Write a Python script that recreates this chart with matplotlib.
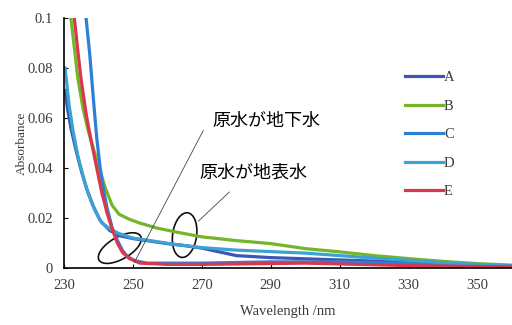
import matplotlib
matplotlib.use('Agg')
import matplotlib.pyplot as plt
from matplotlib.patches import Ellipse
from matplotlib.transforms import ScaledTranslation

# Absorbance spectra
wl_a = [230.3, 231, 232, 233.5, 235, 236.5, 238.4, 240.5, 243.3, 246, 250, 255, 260, 265, 270,
        275, 280, 290, 305, 320, 340, 360]
abs_a = [0.071, 0.064, 0.056, 0.047, 0.039, 0.032, 0.025, 0.019, 0.015, 0.013, 0.0118, 0.0108,
         0.0098, 0.009, 0.008, 0.0065, 0.005, 0.0042, 0.0035, 0.0028, 0.0015, 0.001]

wl_b = [232, 233, 234, 235.5, 237, 238.5, 240, 242, 244, 246, 249, 252, 257, 263, 270, 280, 290,
        300, 310, 320, 330, 340, 350, 360]
abs_b = [0.1, 0.088, 0.076, 0.064, 0.055, 0.048, 0.041, 0.032, 0.025, 0.0215, 0.0195, 0.018,
         0.016, 0.0143, 0.0125, 0.011, 0.0098, 0.0078, 0.0065, 0.005, 0.0038, 0.0027, 0.0018, 0.0012]

wl_c = [236.4, 237.5, 238.5, 239.5, 240.5, 241.5, 242.5, 244, 245.5, 247, 248.5, 250.5, 254, 270,
        290, 310, 330, 360]
abs_c = [0.1, 0.085, 0.068, 0.052, 0.040, 0.031, 0.024, 0.016, 0.011, 0.007, 0.0045, 0.003, 0.002,
         0.002, 0.0025, 0.0025, 0.0018, 0.0008]

wl_d = [230.3, 231.5, 232.6, 234, 235.5, 237, 239, 241, 243.5, 246, 250, 255, 262, 270, 280, 290,
        300, 310, 320, 340, 360]
abs_d = [0.080, 0.065, 0.055, 0.045, 0.037, 0.030, 0.023, 0.018, 0.0155, 0.0138, 0.012, 0.011,
         0.0095, 0.0082, 0.0072, 0.0066, 0.006, 0.005, 0.004, 0.0022, 0.0008]

wl_e = [233, 234, 235, 236.5, 238, 239.5, 241, 242.5, 244, 245.5, 247, 249, 252, 260, 270, 300,
        330, 360]
abs_e = [0.1, 0.087, 0.075, 0.061, 0.050, 0.040, 0.030, 0.022, 0.0155, 0.010, 0.0062, 0.0038,
         0.002, 0.0015, 0.0015, 0.002, 0.001, 0.0005]

names = ['A', 'B', 'C', 'D', 'E']
colors = ['#3d55b5', '#74b52a', '#2e7fd8', '#3aa3d4', '#d9374c']

xticks = [230, 250, 270, 290, 310, 330, 350]
yticks = [0, 0.02, 0.04, 0.06, 0.08, 0.1]
ytick_labels = ['0', '0.02', '0.04', '0.06', '0.08', '0.1']

serif = 'Liberation Serif'
jp = ['Noto Sans CJK JP', 'DejaVu Sans']
grey = '#3a3a3a'

fig = plt.figure(figsize=(5.12, 3.25), dpi=100)
ax = fig.add_axes([0.125, 0.175, 0.875, 0.77])

series = [(wl_a, abs_a), (wl_b, abs_b), (wl_c, abs_c), (wl_d, abs_d), (wl_e, abs_e)]
for (wl, ab), name, col in zip(series, names, colors):
    ax.plot(wl, ab, color=col, lw=2.3, label=name, solid_joinstyle='round')

ax.set_xlim(230, 360)
ax.set_ylim(0, 0.1)
ax.set_xticks(xticks)
ax.set_yticks(yticks)
ax.set_yticklabels(ytick_labels)
for lab in ax.get_xticklabels() + ax.get_yticklabels():
    lab.set_fontfamily(serif)
    lab.set_fontsize(10.5)
    lab.set_color(grey)
ax.tick_params(direction='in', length=3, width=0.8, pad=8)
ax.spines['top'].set_visible(False)
ax.spines['right'].set_visible(False)
ax.spines['left'].set_linewidth(1.2)
ax.spines['bottom'].set_linewidth(1.2)

ax.set_xlabel('Wavelength /nm', fontfamily=serif, fontsize=10.5, color=grey, labelpad=9)
ax.text(-0.094, 0.5, 'Absorbance', transform=ax.transAxes, rotation=90,
        ha='center', va='center', fontfamily=serif, fontsize=9.5, color=grey)

leg = ax.legend(loc='upper left', bbox_to_anchor=(0.731, 0.84), frameon=False,
                handlelength=2.6, handletextpad=0.1, labelspacing=1.05,
                prop={'family': serif, 'size': 10.5})
for t in leg.get_texts():
    t.set_color(grey)

# annotations: text, leader lines and ellipses
ax.annotate('', xy=(250, 0.0012), xytext=(270.8, 0.056),
            arrowprops=dict(arrowstyle='-', lw=0.6, color='#444444'))
ax.text(273, 0.0588, '原水が地下水', fontfamily=jp, fontsize=13, va='center', ha='left')
ax.annotate('', xy=(268.4, 0.018), xytext=(278.6, 0.0312),
            arrowprops=dict(arrowstyle='-', lw=0.6, color='#444444'))
ax.text(269.3, 0.0384, '原水が地表水', fontfamily=jp, fontsize=13, va='center', ha='left')

for cx, cy, w, h, ang in [(246.2, 0.008, 0.48, 0.22, 30), (265, 0.0132, 0.24, 0.45, -8)]:
    tr = fig.dpi_scale_trans + ScaledTranslation(cx, cy, ax.transData)
    ax.add_patch(Ellipse((0, 0), w, h, angle=ang, transform=tr, fill=False,
                         lw=1.2, edgecolor='#111111', clip_on=False))

fig.savefig('out.png', dpi=100)
